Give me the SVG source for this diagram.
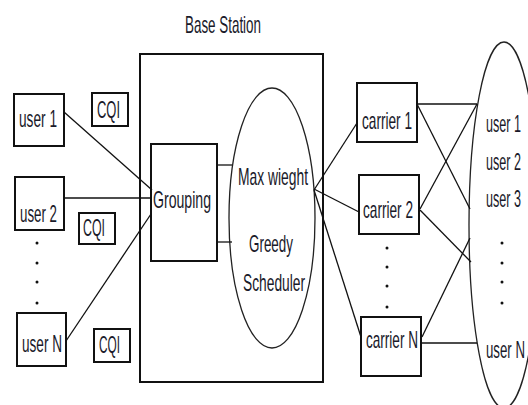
<svg xmlns="http://www.w3.org/2000/svg" width="528" height="405" viewBox="0 0 528 405">
<style>
.box{fill:none;stroke:#111;stroke-width:2}
.ell{fill:none;stroke:#222;stroke-width:1.3}
.ln{stroke:#111;stroke-width:1.3;fill:none}
.t{font-family:"Liberation Sans",Arial,sans-serif;font-size:24px;fill:#1a1a2a}
.dot{fill:#111}
</style>
<rect width="528" height="405" fill="#fff"/>
<text class="t" x="185" y="33" textLength="76" lengthAdjust="spacingAndGlyphs">Base Station</text>
<g id="base-station"><rect class="box" x="140" y="54" width="183" height="328"/></g>
<g id="user1"><rect class="box" x="14" y="94" width="50" height="52"/><text class="t" x="19" y="127" textLength="38" lengthAdjust="spacingAndGlyphs">user 1</text></g>
<g id="cqi1"><rect class="box" x="92" y="93" width="36" height="33"/><text class="t" x="97" y="118" textLength="23" lengthAdjust="spacingAndGlyphs">CQI</text></g>
<g id="user2"><rect class="box" x="15" y="177" width="49" height="53"/><text class="t" x="20" y="222" textLength="37" lengthAdjust="spacingAndGlyphs">user 2</text></g>
<g id="cqi2"><rect class="box" x="79" y="213" width="36" height="31"/><text class="t" x="83" y="236" textLength="22" lengthAdjust="spacingAndGlyphs">CQI</text></g>
<g id="userN"><rect class="box" x="17" y="313" width="49" height="53"/><text class="t" x="22" y="352" textLength="40" lengthAdjust="spacingAndGlyphs">user N</text></g>
<g id="cqi3"><rect class="box" x="94" y="329" width="36" height="33"/><text class="t" x="99" y="353" textLength="21" lengthAdjust="spacingAndGlyphs">CQI</text></g>
<g id="left-dots"><circle class="dot" cx="37" cy="243" r="1.5"/><circle class="dot" cx="37" cy="263" r="1.5"/><circle class="dot" cx="37" cy="282" r="1.5"/><circle class="dot" cx="37" cy="303" r="1.5"/></g>
<g id="grouping"><rect class="box" x="151" y="144" width="66" height="117"/><text class="t" x="153" y="208" textLength="58" lengthAdjust="spacingAndGlyphs">Grouping</text></g>
<g id="scheduler"><ellipse class="ell" cx="272" cy="218" rx="43" ry="130"/>
<text class="t" x="238" y="185" textLength="70" lengthAdjust="spacingAndGlyphs">Max wieght</text>
<text class="t" x="249" y="252" textLength="44" lengthAdjust="spacingAndGlyphs">Greedy</text>
<text class="t" x="243" y="291" textLength="62" lengthAdjust="spacingAndGlyphs">Scheduler</text></g>
<g id="carrier1"><rect class="box" x="357" y="83" width="60" height="59"/><text class="t" x="362" y="129" textLength="50" lengthAdjust="spacingAndGlyphs">carrier 1</text></g>
<g id="carrier2"><rect class="box" x="359" y="175" width="60" height="59"/><text class="t" x="363" y="218" textLength="50" lengthAdjust="spacingAndGlyphs">carrier 2</text></g>
<g id="carrierN"><rect class="box" x="361" y="317" width="60" height="59"/><text class="t" x="366" y="348" textLength="52" lengthAdjust="spacingAndGlyphs">carrier N</text></g>
<g id="mid-dots"><circle class="dot" cx="387" cy="248" r="1.5"/><circle class="dot" cx="387" cy="267" r="1.5"/><circle class="dot" cx="387" cy="286" r="1.5"/><circle class="dot" cx="387" cy="307" r="1.5"/></g>
<g id="users"><ellipse class="ell" cx="504" cy="225" rx="35" ry="183"/>
<text class="t" x="486" y="132" textLength="35" lengthAdjust="spacingAndGlyphs">user 1</text>
<text class="t" x="486" y="170" textLength="35" lengthAdjust="spacingAndGlyphs">user 2</text>
<text class="t" x="486" y="207" textLength="35" lengthAdjust="spacingAndGlyphs">user 3</text>
<circle class="dot" cx="502" cy="243" r="1.5"/><circle class="dot" cx="502" cy="263" r="1.5"/><circle class="dot" cx="502" cy="282" r="1.5"/><circle class="dot" cx="502" cy="303" r="1.5"/>
<text class="t" x="486" y="358" textLength="39" lengthAdjust="spacingAndGlyphs">user N</text></g>
<g id="connectors">
<line class="ln" x1="64" y1="112" x2="152" y2="190"/>
<line class="ln" x1="64" y1="198" x2="151" y2="198" stroke-width="2"/>
<line class="ln" x1="66" y1="341" x2="151" y2="214"/>
<line class="ln" x1="217" y1="165" x2="232" y2="165" stroke-width="2"/>
<line class="ln" x1="217" y1="242" x2="232" y2="242" stroke-width="2"/>
<line class="ln" x1="314" y1="190" x2="357" y2="123"/>
<line class="ln" x1="314" y1="189" x2="359" y2="212" stroke-width="1.8"/>
<line class="ln" x1="314" y1="190" x2="361" y2="337"/>
<line class="ln" x1="417" y1="104" x2="477" y2="104" stroke-width="2"/>
<line class="ln" x1="417" y1="104" x2="470" y2="209"/>
<line class="ln" x1="420" y1="209" x2="477" y2="104"/>
<line class="ln" x1="420" y1="210" x2="471" y2="262" stroke-width="1.6"/>
<line class="ln" x1="422" y1="337" x2="470" y2="238"/>
<line class="ln" x1="421" y1="343" x2="477" y2="343" stroke-width="2"/>
</g>
</svg>
